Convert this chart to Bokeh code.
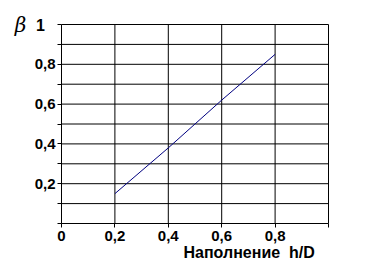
from bokeh.plotting import figure
from bokeh.models import FixedTicker, CustomJSTickFormatter, Label
from bokeh.embed import file_html
from bokeh.resources import INLINE

# data
fill_x = [0.2, 0.4, 0.6, 0.8]
beta_y = [0.15, 0.38, 0.62, 0.85]

x_ticks = [0.0, 0.2, 0.4, 0.6, 0.8, 1.0]
x_labels = ["0", "0,2", "0,4", "0,6", "0,8", ""]
y_ticks = [0.0, 0.1, 0.2, 0.3, 0.4, 0.5, 0.6, 0.7, 0.8, 0.9, 1.0]
y_labels = ["", "", "0,2", "", "0,4", "", "0,6", "", "0,8", "", ""]
x_title = "Наполнение  h/D"
y_title = "β"
y_top_label = "1"

FONT = "Liberation Sans"
W, H = 377, 262
# frame pixel geometry of the reference plot area
L, R, T, B = 61, 328, 24, 223
px_x = (R - L)  # pixels per unit x
px_y = (B - T)  # pixels per unit y

p = figure(width=W, height=H,
           x_range=(-L / px_x, 1 + (W - R) / px_x),
           y_range=(-(H - B) / px_y, 1 + T / px_y),
           output_backend="svg", toolbar_location=None, min_border=0)
p.background_fill_color = "white"
p.border_fill_color = "white"
p.outline_line_color = None
p.grid.visible = False

code = """
for (let i = 0; i < tks.length; i++) {
  if (Math.abs(tks[i] - tick) < 1e-6) return labs[i];
}
return '';
"""

for ax, tks, labs in ((p.xaxis[0], x_ticks, x_labels), (p.yaxis[0], y_ticks, y_labels)):
    ax.fixed_location = 0
    ax.bounds = (0, 1)
    ax.ticker = FixedTicker(ticks=tks, minor_ticks=[])
    ax.formatter = CustomJSTickFormatter(args=dict(tks=tks, labs=labs), code=code)
    ax.major_tick_out = 4
    ax.major_tick_in = 0
    ax.minor_tick_out = 0
    ax.minor_tick_in = 0
    ax.axis_line_color = "black"
    ax.major_tick_line_color = "black"
    ax.major_label_text_font = FONT
    ax.major_label_text_font_style = "bold"
    ax.major_label_text_font_size = "15px"
    ax.major_label_text_color = "black"

p.yaxis.major_label_standoff = 2
p.xaxis.major_label_standoff = 3

# grid lines (vertical every 0.2, horizontal every 0.1), bounded to the plot box
vx = x_ticks[1:]
p.segment(x0=vx, y0=[0] * len(vx), x1=vx, y1=[1] * len(vx), line_color="black", line_width=1)
hy = y_ticks[1:]
p.segment(x0=[0] * len(hy), y0=hy, x1=[1] * len(hy), y1=hy, line_color="black", line_width=1)

p.line(fill_x, beta_y, line_color="#000080", line_width=1)

p.add_layout(Label(x=(183 - L) / px_x, y=(B - 252) / px_y, text=x_title.replace("  ", " \u00a0"),
                   text_font=FONT, text_font_style="bold", text_font_size="16px",
                   text_baseline="middle", text_align="left", text_color="black"))
p.add_layout(Label(x=(40 - L) / px_x, y=1.0, text=y_top_label,
                   text_font=FONT, text_font_style="bold", text_font_size="16px",
                   text_baseline="middle", text_align="center", text_color="black"))
p.add_layout(Label(x=(20 - L) / px_x, y=1.0, text=y_title,
                   text_font="DejaVu Serif", text_font_style="italic", text_font_size="20px",
                   text_baseline="middle", text_align="center", text_color="black"))

open("out.html", "w").write(file_html(p, INLINE))
